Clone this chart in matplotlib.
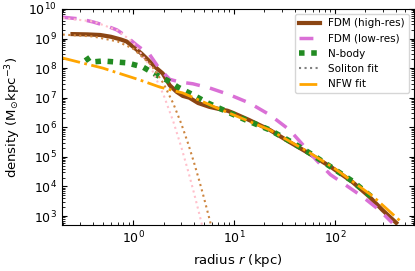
import numpy as np
import matplotlib
matplotlib.use("Agg")
import matplotlib.pyplot as plt
from matplotlib.ticker import NullFormatter

# FDM high-res (radius kpc, log10 density)
r_hi = [0.25, 0.35, 0.47, 0.6, 0.75, 0.86, 1.0, 1.2, 1.46, 1.7, 1.96, 2.3, 2.69, 3.1, 3.6, 4.4, 5.7, 7.7, 8.6, 9.7, 14, 22.6, 35.5, 52, 92, 149, 220, 296, 405]
lg_hi = [9.15, 9.14, 9.12, 9.06, 8.97, 8.90, 8.72, 8.50, 8.22, 8.0, 7.82, 7.42, 7.20, 7.06, 7.0, 6.82, 6.69, 6.59, 6.56, 6.49, 6.25, 5.91, 5.5, 5.17, 4.65, 4.15, 3.65, 3.2, 2.77]

# FDM low-res
r_lo = [0.2, 0.3, 0.4, 0.55, 0.69, 0.85, 1.08, 1.46, 1.8, 2.3, 2.9, 3.9, 5.7, 9.0, 14.2, 22.6, 35.5, 48, 65, 90, 119, 188, 276, 370]
lg_lo = [9.72, 9.66, 9.56, 9.42, 9.29, 9.08, 8.78, 8.45, 8.0, 7.62, 7.53, 7.47, 7.33, 7.1, 6.82, 6.42, 5.91, 5.41, 4.9, 4.4, 4.12, 3.65, 3.2, 2.77]

# N-body
r_nb = [0.34, 0.37, 0.5, 0.86, 1.24, 1.7, 2.2, 2.76, 3.9, 5.5, 9.0, 13, 22.6, 38, 58, 92, 149, 240]
lg_nb = [8.38, 8.2, 8.24, 8.18, 8.04, 7.77, 7.58, 7.36, 7.1, 6.82, 6.49, 6.25, 5.91, 5.48, 5.10, 4.65, 4.18, 3.6]

# soliton fits
r_sol = [0.2, 0.4, 0.7, 1.0, 1.5, 2.0, 2.5, 3.0, 3.5, 4.0, 4.5, 5.0, 5.6, 6.0]
rho_sol_hi = [1.36e9, 1.175e9, 7.95e8, 4.5e8, 1.3e8, 2.99e7, 6.27e6, 1.3e6, 2.82e5, 6.53e4, 1.63e4, 4.4e3, 1.0e3, 4.0e2]
rho_sol_lo = [4.93e9, 3.78e9, 1.9e9, 7.3e8, 1.04e8, 1.24e7, 1.54e6, 2.11e5, 3.33e4, 6.07e3, 1.25e3, 2.9e2, 6e1, 2e1]

# NFW fit
r_nfw = [0.2, 0.5, 1.16, 1.83, 3.1, 6.7, 13, 22.6, 56, 100, 235, 465]
lg_nfw = [8.34, 8.0, 7.6, 7.36, 7.16, 6.66, 6.25, 5.91, 5.14, 4.6, 3.68, 2.77]

xticks = [1, 10, 100]
yticks = [1e3, 1e4, 1e5, 1e6, 1e7, 1e8, 1e9, 1e10]

fig, ax = plt.subplots(figsize=(4.15, 2.71), dpi=100)
fig.subplots_adjust(left=0.149, right=0.998, top=0.967, bottom=0.170)

ax.plot(r_hi, 10**np.array(lg_hi), color="saddlebrown", lw=3, label="FDM (high-res)")
ax.plot(r_lo, 10**np.array(lg_lo), color="orchid", lw=2.5, ls=(0, (4, 3)), label="FDM (low-res)")
ax.plot(r_nb, 10**np.array(lg_nb), color="forestgreen", lw=4, ls=(0, (1, 1.2)), label="N-body")
ax.plot(r_sol, rho_sol_hi, color="peru", lw=1.5, ls=":")
ax.plot(r_sol, rho_sol_lo, color="pink", lw=1.5, ls=":")
ax.plot([], [], color="gray", lw=1.5, ls=":", label="Soliton fit")
ax.plot(r_nfw, 10**np.array(lg_nfw), color="orange", lw=2, ls="-.", label="NFW fit")

ax.set_xscale("log")
ax.set_yscale("log")
ax.set_xticks(xticks)
ax.set_yticks(yticks)
ax.set_xlim(0.196, 610)
ax.set_ylim(500, 1e10)
ax.xaxis.set_minor_formatter(NullFormatter())
ax.yaxis.set_minor_formatter(NullFormatter())
ax.set_xlabel("radius $r$ (kpc)", fontsize=9.5)
ax.set_ylabel(r"density (M$_{\odot}$kpc$^{-3}$)", fontsize=9.5)
ax.tick_params(which="both", direction="in", top=True, right=True, labelsize=9)
ax.legend(loc="upper right", fontsize=7.5)

fig.savefig("out.png")
